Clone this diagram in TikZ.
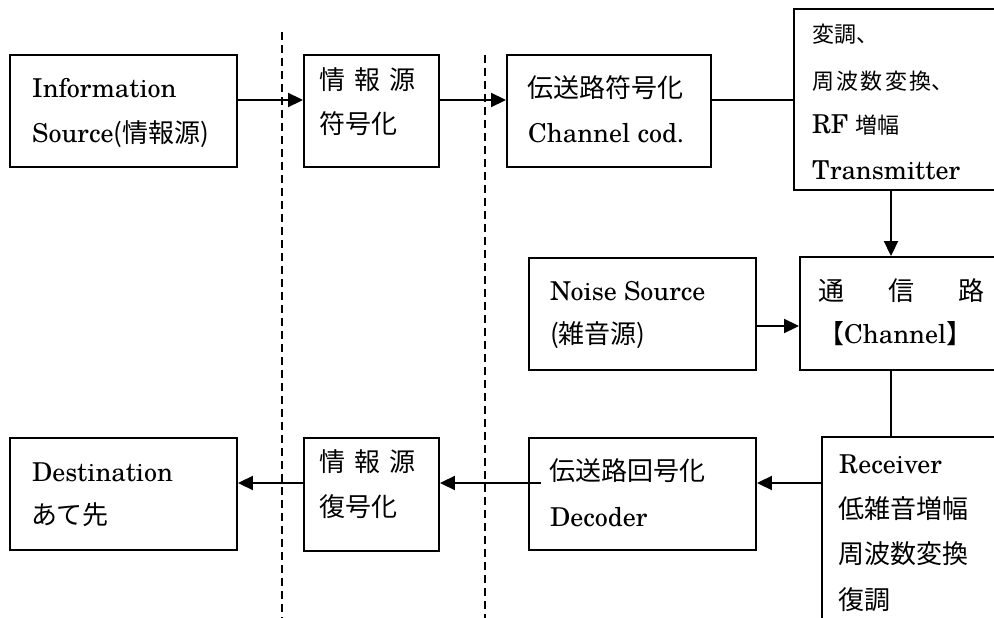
\documentclass[tikz,border=0pt]{standalone}
\usepackage{fontspec}
\setmainfont{TeX Gyre Schola}
\newfontfamily\jp{Noto Sans CJK JP}
\usetikzlibrary{arrows.meta,calc}
\tikzset{
  box/.style={draw, line width=1.9pt, rectangle, inner sep=0pt},
  txt/.style={anchor=base west, inner sep=0pt, font=\fontsize{26pt}{30pt}\selectfont},
  stxt/.style={anchor=base west, inner sep=0pt, font=\fontsize{22pt}{26pt}\selectfont},
  arr/.style={line width=1.9pt, -{Triangle[length=15pt,width=14pt]}},
  ln/.style={line width=1.9pt},
  dsh/.style={line width=1.6pt, dash pattern=on 8pt off 5pt},
}
\begin{document}
\begin{tikzpicture}[x=1pt,y=-1pt]
\useasboundingbox (0,0) rectangle (994,618);
\clip (0,0) rectangle (994,618);
% dashed separators
\coordinate (d1t) at (282,32);
\coordinate (d1b) at (282,620);
\coordinate (d2t) at (485,55);
\coordinate (d2b) at (485,620);
\draw[dsh] (d1t) -- (d1b);
\draw[dsh] (d2t) -- (d2b);
% boxes
\node[box, minimum width=227pt, minimum height=112pt] (b1) at (123.5,111) {};
\node[box, minimum width=135pt, minimum height=112pt] (b2) at (371.5,111) {};
\node[box, minimum width=204pt, minimum height=112pt] (b3) at (609,111) {};
\node[box, minimum width=216pt, minimum height=181pt] (b4) at (902,99.5) {};
\node[box, minimum width=210pt, minimum height=113pt] (b5) at (905,313.5) {};
\node[box, minimum width=227pt, minimum height=112pt] (bn) at (642.5,314) {};
\node[box, minimum width=188pt, minimum height=203pt] (b7) at (916,538.5) {};
\node[box, minimum width=227pt, minimum height=112pt] (b8) at (642.5,494) {};
\node[box, minimum width=135pt, minimum height=113pt] (b9) at (371.5,494.5) {};
\node[box, minimum width=227pt, minimum height=112pt] (b10) at (123.5,494) {};
% texts
\node[txt] (t1a) at (32,97) {Information};
\node[txt] (t1b) at (32,142) {Source{\jp(情報源)}};
\node[txt] (t2a) at (319,90) {\jp 情\hspace{9pt}報\hspace{9pt}源};
\node[txt] (t2b) at (319,133) {\jp 符号化};
\node[txt] (t3a) at (527,97) {\jp 伝送路符号化};
\node[txt] (t3b) at (528,142) {Channel cod.};
\node[stxt] (t4a) at (812,43) {\jp 変調、};
\node[stxt] (t4b) at (812,89) {\jp 周\hspace{2.3pt}波\hspace{2.3pt}数\hspace{2.3pt}変\hspace{2.3pt}換、};
\node[stxt] (t4c) at (812,133) {\fontsize{26pt}{30pt}\selectfont RF {\fontsize{22pt}{26pt}\selectfont\jp 増幅}};
\node[txt] (t4d) at (812,179) {Transmitter};
\node[txt] (t5a) at (818,300) {\jp 通\hspace{44pt}信\hspace{44pt}路};
\node[txt] (t5b) at (818,343) {{\jp 【}Channel{\jp 】}};
\node[txt] (tna) at (550,300) {Noise Source};
\node[txt] (tnb) at (550,343) {\jp(雑音源)};
\node[txt] (t7a) at (839,473) {Receiver};
\node[txt] (t7b) at (838,518) {\jp 低雑音増幅};
\node[txt] (t7c) at (838,563) {\jp 周波数変換};
\node[txt] (t7d) at (838,609) {\jp 復調};
\node[txt] (t8a) at (549,480) {\jp 伝送路回号化};
\node[txt] (t8b) at (550,526) {Decoder};
\node[txt] (t9a) at (319,471) {\jp 情\hspace{9pt}報\hspace{9pt}源};
\node[txt] (t9b) at (319,516) {\jp 復号化};
\node[txt] (t10a) at (32,481) {Destination};
\node[txt] (t10b) at (31,524) {\jp あて先};
% connectors
\coordinate (ya) at (0,100);
\coordinate (yn) at (0,326);
\coordinate (yr) at (0,483);
\coordinate (xv) at (891,0);
\coordinate (b8in) at (541,483);
\draw[arr] (b1.east |- ya) -- (b2.west |- ya);
\draw[arr] (b2.east |- ya) -- (b3.west |- ya);
\draw[ln] (b3.east |- ya) -- (b4.west |- ya);
\draw[arr] (b4.south -| xv) -- (b5.north -| xv);
\draw[arr] (bn.east |- yn) -- (b5.west |- yn);
\draw[ln] (b5.south -| xv) -- (b7.north -| xv);
\draw[arr] (b7.west |- yr) -- (b8.east |- yr);
\draw[arr] (b8in) -- (b9.east |- yr);
\draw[arr] (b9.west |- yr) -- (b10.east |- yr);
\end{tikzpicture}
\end{document}
